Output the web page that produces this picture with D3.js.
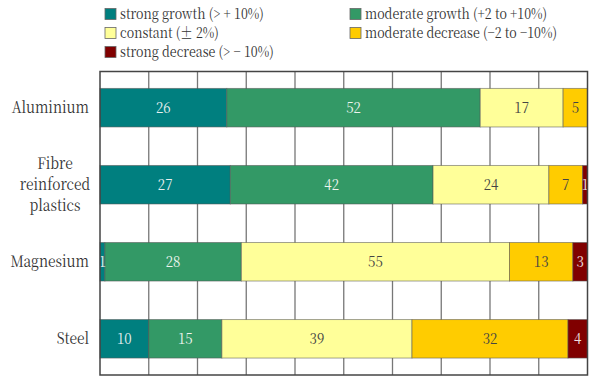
<!DOCTYPE html>
<html>
<head>
<meta charset="utf-8">
<script src="https://cdn.jsdelivr.net/npm/d3@7"></script>
<style>
  html, body { margin: 0; padding: 0; background: #fff; }
  svg { display: block; }
</style>
</head>
<body>
<svg id="chart" width="590" height="376" font-family="'Noto Serif CJK KR', 'Liberation Serif', serif"></svg>
<script>
// ---- data ----
const materials = ["Aluminium", "Fibre reinforced plastics", "Magnesium", "Steel"];
const materialLines = [["Aluminium"], ["Fibre", "reinforced", "plastics"], ["Magnesium"], ["Steel"]];
const seriesNames = ["strong growth (> + 10%)", "moderate growth (+2 to +10%)", "constant (± 2%)", "moderate decrease (−2 to −10%)", "strong decrease (> − 10%)"];
const strongGrowth     = [26, 27, 1, 10];
const moderateGrowth   = [52, 42, 28, 15];
const constant         = [17, 24, 55, 39];
const moderateDecrease = [5, 7, 13, 32];
const strongDecrease   = [0, 1, 3, 4];
const xTicks = [0, 10, 20, 30, 40, 50, 60, 70, 80, 90, 100];

const seriesColors = ["#007f7f", "#339966", "#ffff99", "#ffcc00", "#800000"];
const labelColors  = ["#e8f0f0", "#eef5ee", "#444", "#444", "#f0e0e0"];

const seriesValues = [strongGrowth, moderateGrowth, constant, moderateDecrease, strongDecrease];

// narrow the glyphs to mimic the condensed serif of the original
const SQUEEZE = 0.86;
function squeeze(sel) {
  sel.each(function () {
    const w = this.getComputedTextLength();
    d3.select(this).attr("textLength", w * SQUEEZE).attr("lengthAdjust", "spacingAndGlyphs");
  });
}

// ---- layout ----
const svg = d3.select("#chart");
const plot = { left: 100, right: 587.5, top: 71.5, bottom: 375 };

const x = d3.scaleLinear().domain([0, 100]).range([plot.left, plot.right]);
const y = d3.scaleBand().domain(materials).range([plot.top, plot.bottom])
  .paddingInner(0.5).paddingOuter(0.22);

// gridlines
svg.append("g").selectAll("line").data(xTicks.slice(1, -1)).join("line")
  .attr("x1", d => x(d)).attr("x2", d => x(d))
  .attr("y1", plot.top).attr("y2", plot.bottom)
  .attr("stroke", "#777").attr("stroke-width", 1.3);

// stacked data (normalized to 100 % per material)
const rows = materials.map((m, i) => {
  const vals = seriesValues.map(s => s[i]);
  const total = d3.sum(vals);
  let acc = 0;
  return vals.map((v, k) => {
    const seg = { material: m, k, v, x0: acc / total * 100, x1: (acc + v) / total * 100 };
    acc += v;
    return seg;
  }).filter(d => d.v > 0);
});
const segs = rows.flat();

svg.append("g").selectAll("rect").data(segs).join("rect")
  .attr("x", d => x(d.x0)).attr("width", d => x(d.x1) - x(d.x0))
  .attr("y", d => y(d.material)).attr("height", y.bandwidth())
  .attr("fill", d => seriesColors[d.k])
  .attr("stroke", "#555").attr("stroke-opacity", 0.55).attr("stroke-width", 1);

svg.append("g").selectAll("text").data(segs).join("text")
  .attr("x", d => (x(d.x0) + x(d.x1)) / 2)
  .attr("y", d => y(d.material) + y.bandwidth() / 2)
  .attr("dy", "0.35em")
  .attr("text-anchor", "middle")
  .attr("font-size", 15.5)
  .attr("fill", d => labelColors[d.k])
  .text(d => d.v)
  .call(squeeze);

// frame
svg.append("rect")
  .attr("x", plot.left).attr("y", plot.top)
  .attr("width", plot.right - plot.left).attr("height", plot.bottom - plot.top)
  .attr("fill", "none").attr("stroke", "#444").attr("stroke-width", 1.5);

// category labels
const catG = svg.append("g");
materials.forEach((m, i) => {
  const lines = materialLines[i];
  const cy = y(m) + y.bandwidth() / 2;
  const lh = 21;
  lines.forEach((ln, j) => {
    catG.append("text")
      .attr("font-size", 16)
      .attr("fill", "#333")
      .attr("text-anchor", lines.length > 1 ? "middle" : "end")
      .attr("x", lines.length > 1 ? 55 : 89)
      .attr("y", cy + (j - (lines.length - 1) / 2) * lh)
      .attr("dy", "0.35em")
      .text(ln)
      .call(squeeze);
  });
});

// legend
const legendPos = [
  { x: 105, y: 14 }, { x: 350, y: 14 },
  { x: 105, y: 33 }, { x: 350, y: 33 },
  { x: 105, y: 52 }
];
const lg = svg.append("g").selectAll("g").data(seriesNames).join("g")
  .attr("transform", (d, i) => `translate(${legendPos[i].x},${legendPos[i].y})`);
lg.append("rect").attr("x", 0).attr("y", -5.5).attr("width", 11).attr("height", 11)
  .attr("fill", (d, i) => seriesColors[i]).attr("stroke", "#666").attr("stroke-width", 0.8);
lg.append("text").attr("x", 15).attr("dy", "0.35em")
  .attr("font-size", 14.5).attr("fill", "#333").text(d => d)
  .call(squeeze);
</script>
</body>
</html>
